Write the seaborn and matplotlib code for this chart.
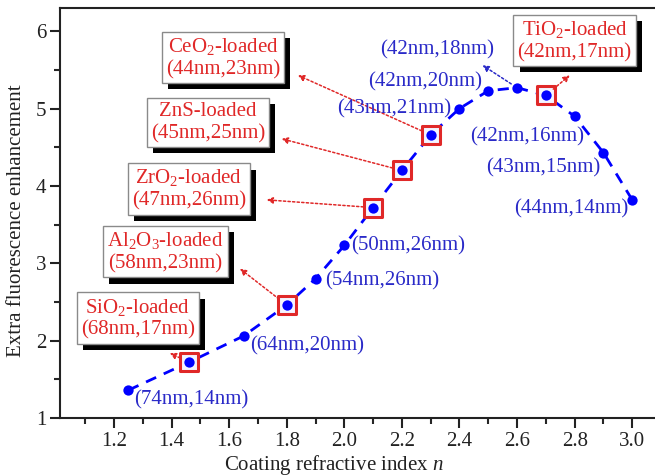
import pandas as pd
import seaborn as sns
import matplotlib.pyplot as plt
import matplotlib.patheffects as pe
from matplotlib.ticker import MultipleLocator

# Coating refractive index n and extra fluorescence enhancement
n_values = [1.25, 1.46, 1.65, 1.80, 1.90, 2.00, 2.10, 2.20, 2.30, 2.40, 2.50, 2.60, 2.70, 2.80, 2.90, 3.00]
enhancement = [1.36, 1.72, 2.06, 2.46, 2.80, 3.23, 3.72, 4.20, 4.66, 5.00, 5.23, 5.27, 5.17, 4.90, 4.43, 3.82]

# Loaded coatings (red squares)
loaded_n = [1.46, 1.80, 2.10, 2.20, 2.30, 2.70]
loaded_y = [1.72, 2.46, 3.72, 4.20, 4.66, 5.17]
loaded_names = ['SiO$_2$-loaded', 'Al$_2$O$_3$-loaded', 'ZrO$_2$-loaded',
                'ZnS-loaded', 'CeO$_2$-loaded', 'TiO$_2$-loaded']
loaded_sizes = ['(68nm,17nm)', '(58nm,23nm)', '(47nm,26nm)',
                '(45nm,25nm)', '(44nm,23nm)', '(42nm,17nm)']

# Other points with their (thickness, size) labels
label_n = [1.25, 1.65, 1.90, 2.00, 2.40, 2.50, 2.60, 2.80, 2.90, 3.00]
label_y = [1.36, 2.06, 2.80, 3.23, 5.00, 5.23, 5.27, 4.90, 4.43, 3.82]
label_text = ['(74nm,14nm)', '(64nm,20nm)', '(54nm,26nm)', '(50nm,26nm)', '(43nm,21nm)',
              '(42nm,20nm)', '(42nm,18nm)', '(42nm,16nm)', '(43nm,15nm)', '(44nm,14nm)']

df = pd.DataFrame({'n': n_values, 'enh': enhancement})
df_loaded = pd.DataFrame({'n': loaded_n, 'enh': loaded_y})

sns.set_style('ticks')
plt.rcParams['font.family'] = ['Liberation Serif', 'DejaVu Serif']
plt.rcParams['mathtext.fontset'] = 'custom'
plt.rcParams['mathtext.rm'] = 'Liberation Serif'
plt.rcParams['mathtext.it'] = 'Liberation Serif:italic'
plt.rcParams['mathtext.default'] = 'regular'

red = '#e02828'
blue_txt = '#2a2ac8'
fs = 15

fig = plt.figure(figsize=(6.55, 4.76), dpi=100)
ax = fig.add_axes([60 / 655, 58 / 476, 601 / 655, 410 / 476])

# dashed line through all points
sns.lineplot(data=df, x='n', y='enh', ax=ax, sort=False, color='#0000ff',
             linestyle=(0, (4, 3)), linewidth=2, zorder=2)
# red squares for loaded coatings
sns.scatterplot(data=df_loaded, x='n', y='enh', ax=ax, marker='s', s=160,
                facecolor='#f4f4ff', edgecolor=red, linewidth=2.2, zorder=3)
# blue dots
sns.scatterplot(data=df, x='n', y='enh', ax=ax, marker='o', s=55,
                color='#0000ff', edgecolor='#0000ff', linewidth=0, zorder=4)

# box positions (centre) and arrow end points, in data coords
box_xy = [(1.283, 2.29), (1.378, 3.15), (1.46, 3.96), (1.526, 4.82), (1.578, 5.66), (2.80, 5.88)]
arrow_end = [(1.394, 1.84), (1.6375, 2.93), (1.73, 3.82), (1.782, 4.61), (1.839, 5.43), (2.783, 5.43)]

for i in range(len(loaded_n)):
    t = ax.text(box_xy[i][0], box_xy[i][1], loaded_names[i] + '\n' + loaded_sizes[i],
                ha='center', va='center', fontsize=fs, color=red, linespacing=1.2,
                bbox=dict(boxstyle='square,pad=0.2', facecolor='white',
                          edgecolor='#8a8a8a', linewidth=1.0), zorder=6)
    t.get_bbox_patch().set_path_effects([
        pe.SimplePatchShadow(offset=(4.5, -4.5), shadow_rgbFace='black', alpha=1.0),
        pe.Normal()])
    ax.annotate('', xy=arrow_end[i], xytext=(loaded_n[i], loaded_y[i]),
                arrowprops=dict(arrowstyle='-|>', color=red, linestyle=(0, (1.5, 1.5)),
                                lw=1.1, mutation_scale=9, shrinkA=7, shrinkB=0),
                zorder=5)

# blue arrow to the (42nm,18nm) label
ax.annotate('', xy=(2.48, 5.56), xytext=(2.60, 5.27),
            arrowprops=dict(arrowstyle='-|>', color=blue_txt, linestyle=(0, (1.5, 1.5)),
                            lw=1.1, mutation_scale=9, shrinkA=5, shrinkB=0), zorder=5)

# blue label positions
label_pos = [(1.269, 1.23, 'left'), (1.672, 1.93, 'left'), (1.935, 2.77, 'left'),
             (2.025, 3.22, 'left'), (2.37, 4.99, 'right'), (2.48, 5.35, 'right'),
             (2.323, 5.76, 'center'), (2.634, 4.63, 'center'), (2.69, 4.23, 'center'),
             (2.79, 3.70, 'center')]
for txt, (x, y, ha) in zip(label_text, label_pos):
    ax.text(x, y, txt, ha=ha, va='center', fontsize=fs, color=blue_txt, zorder=5)

ax.set_xlim(1.0125, 3.1)
ax.set_ylim(1, 6.3)
ax.xaxis.set_major_locator(MultipleLocator(0.2))
ax.xaxis.set_minor_locator(MultipleLocator(0.1))
ax.yaxis.set_major_locator(MultipleLocator(1))
ax.yaxis.set_minor_locator(MultipleLocator(0.5))
ax.set_xticks([1.2, 1.4, 1.6, 1.8, 2.0, 2.2, 2.4, 2.6, 2.8, 3.0])
ax.set_xticklabels(['1.2', '1.4', '1.6', '1.8', '2.0', '2.2', '2.4', '2.6', '2.8', '3.0'])
ax.tick_params(which='major', direction='out', length=7, width=1.5, labelsize=fs,
               colors='#222222', pad=3)
ax.tick_params(which='minor', direction='out', length=4, width=1.5)
ax.tick_params(axis='y', which='both', right=False)
ax.tick_params(axis='x', which='both', top=False)
for sp in ax.spines.values():
    sp.set_linewidth(1.5)
    sp.set_color('#222222')
    sp.set_visible(True)

ax.set_xlabel('Coating refractive index $\\mathit{n}$', fontsize=fs, color='#222222')
ax.set_ylabel('Extra fluorescence enhancement', fontsize=fs, color='#222222')
ax.xaxis.set_label_coords((334 - 60) / 601, -35 / 410)
ax.yaxis.set_label_coords(-34 / 601, (418 - 221) / 410)

plt.savefig('out.png', dpi=100)
